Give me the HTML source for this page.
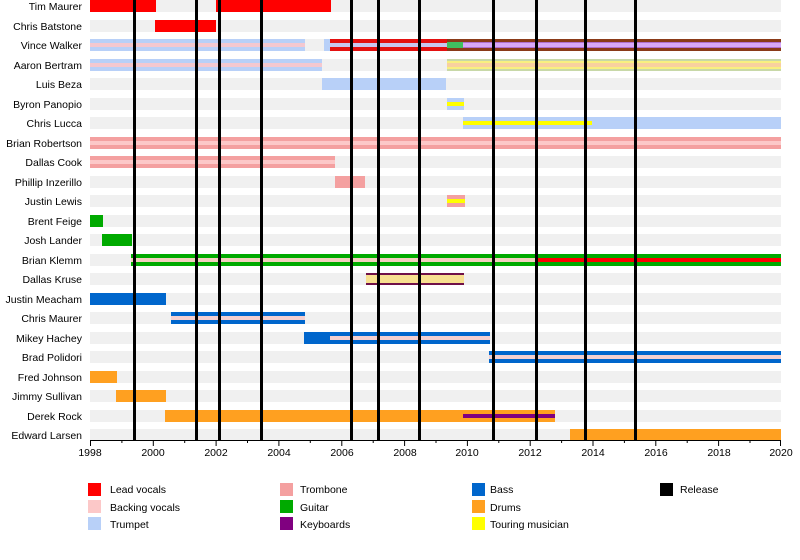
<!DOCTYPE html>
<html><head><meta charset="utf-8"><style>
html,body{margin:0;padding:0;background:#fff;}
svg{display:block;font-family:"Liberation Sans",sans-serif;}
</style></head><body>
<svg width="800" height="560" viewBox="0 0 800 560" xmlns="http://www.w3.org/2000/svg">
<defs><filter id="b" x="-5%" y="-50%" width="110%" height="200%"><feGaussianBlur stdDeviation="0.6"/></filter></defs>
<g fill="#f0f0f0">
<rect x="90" y="0" width="691" height="12"/>
<rect x="90" y="20" width="691" height="12"/>
<rect x="90" y="39" width="691" height="12"/>
<rect x="90" y="59" width="691" height="12"/>
<rect x="90" y="78" width="691" height="12"/>
<rect x="90" y="98" width="691" height="12"/>
<rect x="90" y="117" width="691" height="12"/>
<rect x="90" y="137" width="691" height="12"/>
<rect x="90" y="156" width="691" height="12"/>
<rect x="90" y="176" width="691" height="12"/>
<rect x="90" y="195" width="691" height="12"/>
<rect x="90" y="215" width="691" height="12"/>
<rect x="90" y="234" width="691" height="12"/>
<rect x="90" y="254" width="691" height="12"/>
<rect x="90" y="273" width="691" height="12"/>
<rect x="90" y="293" width="691" height="12"/>
<rect x="90" y="312" width="691" height="12"/>
<rect x="90" y="332" width="691" height="12"/>
<rect x="90" y="351" width="691" height="12"/>
<rect x="90" y="371" width="691" height="12"/>
<rect x="90" y="390" width="691" height="12"/>
<rect x="90" y="410" width="691" height="12"/>
<rect x="90" y="429" width="691" height="11"/>
</g>
<g>
<!-- Tim Maurer -->
<rect x="90" y="0" width="66" height="12" fill="#ff0000"/>
<rect x="216" y="0" width="115" height="12" fill="#ff0000"/>
<!-- Chris Batstone -->
<rect x="155" y="20" width="61" height="12" fill="#ff0000"/>
<!-- Vince Walker -->
<rect x="90" y="39" width="215" height="12" fill="#b8d0f8"/>
<rect x="90" y="43" width="215" height="4" fill="#f4c8d0"/>
<rect x="324" y="39" width="7" height="12" fill="#b8d0f8"/>
<rect x="330" y="39" width="117" height="12" fill="#e41010"/>
<rect x="330" y="43" width="117" height="4" fill="#c8c8f0"/>
<rect x="447" y="39" width="334" height="12" fill="#8a3a18"/>
<rect x="447" y="42" width="334" height="6" fill="#b070d0"/>
<rect x="447" y="43" width="334" height="4" fill="#d8a8f8"/>
<rect x="447" y="42" width="16" height="6" fill="#40c060"/>
<!-- Aaron Bertram -->
<rect x="90" y="59" width="232" height="12" fill="#b8d0f8"/>
<rect x="90" y="63" width="232" height="4" fill="#f4c8d0"/>
<rect x="447" y="59" width="334" height="12" fill="#c8d8a8"/>
<rect x="447" y="61" width="334" height="8" fill="#f8f080"/>
<rect x="447" y="63" width="334" height="4" fill="#f8d0a0"/>
<!-- Luis Beza -->
<rect x="322" y="78" width="124" height="12" fill="#b8d0f8"/>
<!-- Byron -->
<rect x="447" y="98" width="17" height="12" fill="#b8d0f8"/>
<rect x="447" y="102" width="17" height="4" fill="#ffff00"/>
<!-- Chris Lucca -->
<rect x="463" y="117" width="318" height="12" fill="#b8d0f8"/>
<rect x="463" y="121" width="129" height="4" fill="#ffff00"/>
<!-- Brian Robertson -->
<rect x="90" y="137" width="691" height="12" fill="#f4a0a0"/>
<rect x="90" y="141" width="691" height="4" fill="#fcc8c8"/>
<!-- Dallas Cook -->
<rect x="90" y="156" width="245" height="12" fill="#f4a0a0"/>
<rect x="90" y="160" width="245" height="4" fill="#fcc8c8"/>
<!-- Phillip -->
<rect x="335" y="176" width="30" height="12" fill="#f4a0a0"/>
<!-- Justin Lewis -->
<rect x="447" y="195" width="18" height="12" fill="#f4a0a0"/>
<rect x="447" y="199" width="18" height="4" fill="#ffff00"/>
<!-- Brent Feige -->
<rect x="90" y="215" width="13" height="12" fill="#00aa00"/>
<!-- Josh Lander -->
<rect x="102" y="234" width="30" height="12" fill="#00aa00"/>
<!-- Brian Klemm -->
<rect x="131" y="254" width="650" height="12" fill="#00aa00"/>
<rect x="131" y="258" width="405" height="4" fill="#f4d0c0"/>
<rect x="536" y="258" width="245" height="4" fill="#ff0000"/>
<!-- Dallas Kruse -->
<rect x="366" y="273" width="98" height="12" fill="#701048"/>
<rect x="366" y="275" width="98" height="8" fill="#f8e090"/>
<!-- Justin Meacham -->
<rect x="90" y="293" width="76" height="12" fill="#0066cc"/>
<!-- Chris Maurer -->
<rect x="171" y="312" width="134" height="12" fill="#0066cc"/>
<rect x="171" y="316" width="134" height="4" fill="#f4d0d0"/>
<!-- Mikey Hachey -->
<rect x="304" y="332" width="186" height="12" fill="#0066cc"/>
<rect x="330" y="336" width="160" height="4" fill="#f4d0d0"/>
<!-- Brad Polidori -->
<rect x="489" y="351" width="292" height="12" fill="#0066cc"/>
<rect x="489" y="355" width="292" height="4" fill="#f4d0d0"/>
<!-- Fred Johnson -->
<rect x="90" y="371" width="27" height="12" fill="#ffa020"/>
<!-- Jimmy Sullivan -->
<rect x="116" y="390" width="50" height="12" fill="#ffa020"/>
<!-- Derek Rock -->
<rect x="165" y="410" width="390" height="12" fill="#ffa020"/>
<rect x="463" y="414" width="92" height="4" fill="#800080"/>
<!-- Edward Larsen -->
<rect x="570" y="429" width="211" height="11" fill="#ffa020"/>
</g>
<g fill="#000">
<rect x="133" y="0" width="3" height="440"/>
<rect x="195" y="0" width="3" height="440"/>
<rect x="218" y="0" width="3" height="440"/>
<rect x="260" y="0" width="3" height="440"/>
<rect x="350" y="0" width="3" height="440"/>
<rect x="377" y="0" width="3" height="440"/>
<rect x="418" y="0" width="3" height="440"/>
<rect x="492" y="0" width="3" height="440"/>
<rect x="535" y="0" width="3" height="440"/>
<rect x="584" y="0" width="3" height="440"/>
<rect x="634" y="0" width="3" height="440"/>
</g>
<g stroke="#000" stroke-width="1">
<line x1="90" y1="440.5" x2="781" y2="440.5"/>
<line x1="90.5" y1="440" x2="90.5" y2="446"/>
<line x1="121.9" y1="440" x2="121.9" y2="443"/>
<line x1="153.3" y1="440" x2="153.3" y2="446"/>
<line x1="184.7" y1="440" x2="184.7" y2="443"/>
<line x1="216.1" y1="440" x2="216.1" y2="446"/>
<line x1="247.5" y1="440" x2="247.5" y2="443"/>
<line x1="278.9" y1="440" x2="278.9" y2="446"/>
<line x1="310.3" y1="440" x2="310.3" y2="443"/>
<line x1="341.8" y1="440" x2="341.8" y2="446"/>
<line x1="373.2" y1="440" x2="373.2" y2="443"/>
<line x1="404.6" y1="440" x2="404.6" y2="446"/>
<line x1="436" y1="440" x2="436" y2="443"/>
<line x1="467.4" y1="440" x2="467.4" y2="446"/>
<line x1="498.8" y1="440" x2="498.8" y2="443"/>
<line x1="530.2" y1="440" x2="530.2" y2="446"/>
<line x1="561.6" y1="440" x2="561.6" y2="443"/>
<line x1="593" y1="440" x2="593" y2="446"/>
<line x1="624.4" y1="440" x2="624.4" y2="443"/>
<line x1="655.8" y1="440" x2="655.8" y2="446"/>
<line x1="687.2" y1="440" x2="687.2" y2="443"/>
<line x1="718.6" y1="440" x2="718.6" y2="446"/>
<line x1="750" y1="440" x2="750" y2="443"/>
<line x1="780.5" y1="440" x2="780.5" y2="446"/>
</g>
<g font-size="10.5" fill="#000" text-anchor="middle">
<text x="90" y="456">1998</text><text x="153" y="456">2000</text><text x="216" y="456">2002</text>
<text x="279" y="456">2004</text><text x="342" y="456">2006</text><text x="405" y="456">2008</text>
<text x="467" y="456">2010</text><text x="530" y="456">2012</text><text x="593" y="456">2014</text>
<text x="656" y="456">2016</text><text x="719" y="456">2018</text><text x="781" y="456">2020</text>
</g>
<g font-size="10.5" fill="#000" text-anchor="end">
<text x="82" y="10">Tim Maurer</text>
<text x="82" y="30">Chris Batstone</text>
<text x="82" y="49">Vince Walker</text>
<text x="82" y="69">Aaron Bertram</text>
<text x="82" y="88">Luis Beza</text>
<text x="82" y="108">Byron Panopio</text>
<text x="82" y="127">Chris Lucca</text>
<text x="82" y="147">Brian Robertson</text>
<text x="82" y="166">Dallas Cook</text>
<text x="82" y="186">Phillip Inzerillo</text>
<text x="82" y="205">Justin Lewis</text>
<text x="82" y="225">Brent Feige</text>
<text x="82" y="244">Josh Lander</text>
<text x="82" y="264">Brian Klemm</text>
<text x="82" y="283">Dallas Kruse</text>
<text x="82" y="303">Justin Meacham</text>
<text x="82" y="322">Chris Maurer</text>
<text x="82" y="342">Mikey Hachey</text>
<text x="82" y="361">Brad Polidori</text>
<text x="82" y="381">Fred Johnson</text>
<text x="82" y="400">Jimmy Sullivan</text>
<text x="82" y="420">Derek Rock</text>
<text x="82" y="439">Edward Larsen</text>
</g>
<g>
<rect x="88" y="483" width="13" height="13" fill="#ff0000"/>
<rect x="88" y="500" width="13" height="13" fill="#fcc8c8"/>
<rect x="88" y="517" width="13" height="13" fill="#b8d0f8"/>
<rect x="280" y="483" width="13" height="13" fill="#f4a0a0"/>
<rect x="280" y="500" width="13" height="13" fill="#00aa00"/>
<rect x="280" y="517" width="13" height="13" fill="#800080"/>
<rect x="472" y="483" width="13" height="13" fill="#0066cc"/>
<rect x="472" y="500" width="13" height="13" fill="#ffa020"/>
<rect x="472" y="517" width="13" height="13" fill="#ffff00"/>
<rect x="660" y="483" width="13" height="13" fill="#000"/>
</g>
<g font-size="10.5" fill="#000">
<text x="110" y="493">Lead vocals</text>
<text x="110" y="511">Backing vocals</text>
<text x="110" y="528">Trumpet</text>
<text x="300" y="493">Trombone</text>
<text x="300" y="511">Guitar</text>
<text x="300" y="528">Keyboards</text>
<text x="490" y="493">Bass</text>
<text x="490" y="511">Drums</text>
<text x="490" y="528">Touring musician</text>
<text x="680" y="493">Release</text>
</g>
</svg>
</body></html>
